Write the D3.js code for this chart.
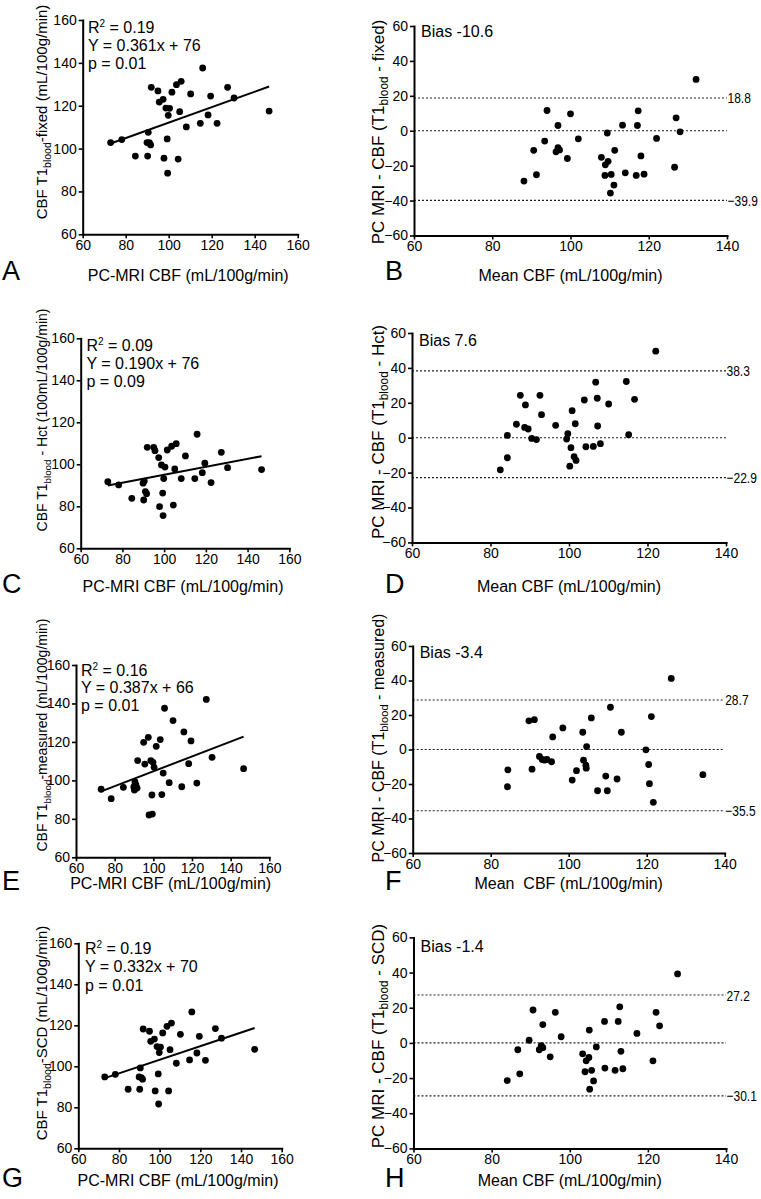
<!DOCTYPE html>
<html><head><meta charset="utf-8">
<script src="https://cdn.jsdelivr.net/npm/d3@7"></script>
<style>
body{margin:0;background:#fff}
svg{display:block}
text{font-family:"Liberation Sans",Arial,Helvetica,sans-serif;fill:#000}
</style>
</head><body>
<svg id="chart" width="761" height="1199"></svg>
<script>
// ---------- DATA ----------
// PC-MRI CBF (x for all correlation panels)
const pcMriCBF = [73.0,78.2,84.5,89.9,90.2,90.5,91.0,91.6,91.9,95.0,95.6,97.4,97.8,98.7,99.3,99.5,99.8,100.4,101.5,103.6,104.4,105.1,105.8,108.2,110.2,114.7,115.8,118.3,119.5,122.5,127.4,130.4,146.7];
const cbfT1Fixed    = [102.8,104.2,96.5,102.8,96.5,107.6,102.8,101.7,128.6,126.9,121.7,123.0,95.5,118.9,104.5,88.5,115.5,118.8,126.3,129.8,95.1,117.2,131.4,110.1,125.5,111.8,137.6,115.7,124.5,111.8,128.6,123.6,117.5];
const cbfT1Hct      = [91.7,90.2,83.8,91.0,83.0,92.0,87.0,86.0,108.1,108.1,106.5,103.2,79.8,99.7,86.3,75.6,93.2,98.7,106.8,108.6,80.6,97.8,109.8,93.2,104.0,93.2,114.3,96.0,100.5,91.3,105.7,98.4,97.5];
const cbfT1Measured = [95.4,90.5,96.4,96.6,95.0,99.2,97.6,96.0,110.3,119.8,108.5,122.4,82.0,110.3,92.4,82.5,109.4,106.8,117.7,121.2,92.6,103.8,137.5,98.8,131.1,96.7,125.2,108.7,120.5,98.6,142.1,112.0,106.1];
const cbfT1Scd      = [94.8,96.1,88.8,94.8,88.8,99.2,94.5,93.7,118.2,117.1,112.2,113.3,88.0,109.6,96.3,81.6,106.7,109.4,116.3,119.5,88.0,108.1,121.1,101.5,115.6,103.1,126.5,106.5,114.6,102.9,118.4,113.7,108.3];

const fitR2        = ["0.19","0.09","0.16","0.19"];
const fitSlope     = [0.361,0.190,0.387,0.332];
const fitIntercept = [76,76,66,70];
const fitP         = ["0.01","0.09","0.01","0.01"];

// Bland-Altman: mean CBF and difference
const meanFixed = [88.1,90.6,91.3,93.4,94.0,96.3,96.8,96.8,97.2,99.2,100.0,102.0,107.9,108.8,108.9,109.4,109.6,110.4,110.2,111.1,111.3,113.3,114.0,116.8,117.1,117.3,118.0,118.8,122.0,126.6,127.0,128.0,132.1];
const diffFixed = [-28.8,-11.2,-25.2,-5.9,11.6,-12.1,3.0,-9.7,-11.0,-15.9,9.7,-4.6,-15.2,-25.6,-19.5,-1.3,-17.5,-25.0,-35.7,-31.1,-11.2,3.2,-24.1,-25.6,3.0,11.4,-14.4,-24.9,-4.4,-20.9,7.4,-0.6,29.4];
const meanHct = [82.5,84.3,84.3,86.6,87.6,88.7,88.9,89.6,90.5,91.7,92.6,93.0,96.6,99.4,99.7,100.2,100.5,100.8,101.3,101.8,101.6,103.9,104.3,106.2,106.8,107.2,107.3,108.0,110.1,114.6,115.2,116.7,122.1];
const diffHct = [-18.4,-11.5,1.3,7.7,24.3,5.9,18.8,5.0,-0.4,-1.1,24.3,13.2,7.1,-0.8,2.3,-16.3,-5.7,15.5,-10.9,-13.0,8.0,21.6,-5.2,-5.0,31.8,22.6,6.7,-3.4,19.3,32.2,1.7,22.0,49.6];
const meanMeasured = [84.4,84.3,89.8,91.2,90.6,92.5,93.2,93.8,94.4,95.6,95.9,98.5,100.9,102.0,103.6,104.6,103.8,104.4,104.5,105.8,107.4,109.5,109.9,110.7,112.4,113.5,119.8,120.5,120.7,121.2,121.7,126.3,134.4];
const diffMeasured = [-11.8,-21.6,16.6,17.3,-11.4,-4.0,-5.8,-6.2,-5.8,-7.1,7.3,12.5,-17.7,-12.3,10.0,1.7,-6.2,-9.1,-10.8,18.3,-23.9,-15.4,-23.9,24.5,-17.1,10.0,-0.2,-8.7,-19.8,19.1,-30.6,41.2,-14.6];
const meanScd = [84.0,86.7,87.2,89.6,90.6,92.2,92.7,93.1,93.1,95.0,96.3,97.8,103.3,103.9,104.2,104.9,105.0,105.1,105.6,106.1,106.8,108.9,109.0,111.6,112.4,112.8,113.1,113.6,117.2,121.3,122.1,123.0,127.6];
const diffScd = [-21.4,-3.9,-17.6,1.5,18.7,-3.9,-1.5,-2.7,10.4,-7.9,17.4,3.5,-6.2,-16.4,-10.2,-8.3,7.3,-26.3,-15.6,-21.6,-2.3,12.2,-14.3,-15.6,12.2,20.5,-4.8,-14.7,5.4,-10.2,17.4,9.7,39.2];

const biasValues = ["-10.6","7.6","-3.4","-1.4"];
const upperLoA   = [18.8,38.3,28.7,27.2];
const lowerLoA   = [-39.9,-22.9,-35.5,-30.1];

const scatterTicks = [60,80,100,120,140,160];
const baXTicks     = [60,80,100,120,140];
const baYTicks     = [-60,-40,-20,0,20,40,60];

const panelLetters = ["A","B","C","D","E","F","G","H"];
const scatterYTitles = [["CBF T1","blood","-fixed (mL/100g/min)"],["CBF T1","blood"," - Hct (100mL/100g/min)"],["CBF T1","blood","-measured (mL/100g/min)"],["CBF T1","blood","-SCD (mL/100g/min)"]];
const baYTitles = [["PC MRI - CBF (T1","blood"," - fixed)"],["PC MRI - CBF (T1","blood"," - Hct)"],["PC MRI - CBF (T1","blood"," - measured)"],["PC MRI - CBF (T1","blood"," - SCD)"]];
const scatterXTitle = "PC-MRI CBF (mL/100g/min)";
const baXTitles = ["Mean CBF (mL/100g/min)","Mean CBF (mL/100g/min)","Mean  CBF (mL/100g/min)","Mean CBF (mL/100g/min)"];

const scatterY = [cbfT1Fixed, cbfT1Hct, cbfT1Measured, cbfT1Scd];
const baMeans = [meanFixed, meanHct, meanMeasured, meanScd];
const baDiffs = [diffFixed, diffHct, diffMeasured, diffScd];

// ---------- LAYOUT ----------
const scatterBoxes = [
  {l:82.7,r:297.7,t:20,b:234.3, ann:[88,32.5,18.3], ytc:112, yts:15, xtb:281, lb:280},
  {l:80.7,r:289.3,t:338.3,b:548.3, ann:[86.5,350.7,18.3], ytc:420, yts:14, xtb:592, lb:593},
  {l:76,r:269.3,t:665,b:857.3, ann:[81,675.5,17.5], ytc:735, yts:14, xtb:889, lb:890},
  {l:78.3,r:281.7,t:943.3,b:1148.3, ann:[85,954,18.3], ytc:1033, yts:15, xtb:1186, lb:1187}
];
const baBoxes = [
  {l:414,r:727,t:26,b:235.5, bias:37, ytc:132, yts:17, xtb:281},
  {l:412,r:726,t:333,b:542.4, bias:345.7, ytc:432, yts:17, xtb:592},
  {l:412.7,r:724.7,t:646,b:853, bias:658.4, ytc:738, yts:16, xtb:889},
  {l:413.5,r:726,t:937.4,b:1148.4, bias:951.7, ytc:1036, yts:17, xtb:1186}
];

const svg = d3.select("#chart");

function styleAxis(g){
  g.select(".domain").attr("stroke","#000").attr("stroke-width",2).attr("stroke-linecap","square");
  g.selectAll(".tick line").attr("stroke","#000").attr("stroke-width",1.6);
  g.selectAll(".tick text").attr("font-size",14).attr("fill","#000");
}

function subTitle(g, x, y, parts, rotate, size){
  const t = g.append("text")
    .attr("transform", `translate(${x},${y})` + (rotate ? " rotate(-90)" : ""))
    .attr("text-anchor","middle").attr("font-size",size);
  t.append("tspan").text(parts[0]);
  t.append("tspan").attr("font-size",size*0.7).attr("dy",4).text(parts[1]);
  t.append("tspan").attr("dy",-4).text(parts[2]);
  return t;
}

// ---------- SCATTER PANELS ----------
scatterBoxes.forEach((bx,i)=>{
  const g = svg.append("g");
  const x = d3.scaleLinear().domain([60,160]).range([bx.l,bx.r]);
  const y = d3.scaleLinear().domain([60,160]).range([bx.b,bx.t]);

  g.append("g").attr("transform",`translate(0,${bx.b})`)
    .call(d3.axisBottom(x).tickValues(scatterTicks).tickSize(4).tickSizeOuter(0).tickPadding(2))
    .call(styleAxis);
  g.append("g").attr("transform",`translate(${bx.l},0)`)
    .call(d3.axisLeft(y).tickValues(scatterTicks).tickSize(4).tickSizeOuter(0).tickPadding(2))
    .call(styleAxis);

  const ys = scatterY[i];
  const ext = d3.extent(pcMriCBF);
  const fit = ext.map(v=>[v, fitSlope[i]*v + fitIntercept[i]]);
  g.append("path").datum(fit)
    .attr("d", d3.line().x(d=>x(d[0])).y(d=>y(d[1])))
    .attr("stroke","#000").attr("stroke-width",2).attr("fill","none");

  g.selectAll("circle.pt").data(pcMriCBF).join("circle")
    .attr("cx",d=>x(d)).attr("cy",(d,j)=>y(ys[j])).attr("r",3.4).attr("fill","#000");

  const [ax, ay, dy] = bx.ann;
  const r2 = g.append("text").attr("x",ax).attr("y",ay).attr("font-size",16);
  r2.append("tspan").text("R");
  r2.append("tspan").attr("font-size",10).attr("dy",-6).text("2");
  r2.append("tspan").attr("dy",6).text(" = " + fitR2[i]);
  g.append("text").attr("x",ax).attr("y",ay+dy).attr("font-size",16)
    .text(`Y = ${fitSlope[i].toFixed(3)}x + ${fitIntercept[i]}`);
  g.append("text").attr("x",ax).attr("y",ay+2*dy).attr("font-size",16)
    .text(`p = ${fitP[i]}`);

  subTitle(g, 47, bx.ytc, scatterYTitles[i], true, bx.yts);
  g.append("text").attr("x",(bx.l+bx.r)/2 - 2).attr("y",bx.xtb).attr("text-anchor","middle")
    .attr("font-size",16).text(scatterXTitle);
  g.append("text").attr("x",2).attr("y",bx.lb).attr("font-size",27).text(panelLetters[i*2]);
});

// ---------- BLAND-ALTMAN PANELS ----------
baBoxes.forEach((bx,i)=>{
  const g = svg.append("g");
  const x = d3.scaleLinear().domain([60,140]).range([bx.l,bx.r]);
  const y = d3.scaleLinear().domain([-60,60]).range([bx.b,bx.t]);

  [upperLoA[i], 0, lowerLoA[i]].forEach(v=>{
    g.append("line").attr("x1",bx.l).attr("x2",bx.r).attr("y1",y(v)).attr("y2",y(v))
      .attr("stroke","#222").attr("stroke-width",1.1).attr("stroke-dasharray","2,2");
  });
  [upperLoA[i], lowerLoA[i]].forEach(v=>{
    g.append("text").attr("transform",`translate(${bx.r+0.5},${y(v)+5.5}) scale(0.8,1)`)
      .attr("font-size",15).text(d3.format(".1f")(v));
  });

  g.append("g").attr("transform",`translate(0,${bx.b})`)
    .call(d3.axisBottom(x).tickValues(baXTicks).tickSize(4).tickSizeOuter(0).tickPadding(2))
    .call(styleAxis);
  g.append("g").attr("transform",`translate(${bx.l},0)`)
    .call(d3.axisLeft(y).tickValues(baYTicks).tickSize(4).tickSizeOuter(0).tickPadding(2).tickFormat(d3.format("d")))
    .call(styleAxis);

  const ds = baDiffs[i];
  g.selectAll("circle.pt").data(baMeans[i]).join("circle")
    .attr("cx",d=>x(d)).attr("cy",(d,j)=>y(ds[j])).attr("r",3.4).attr("fill","#000");

  g.append("text").attr("x",bx.l+7).attr("y",bx.bias).attr("font-size",16).text("Bias " + biasValues[i]);

  subTitle(g, 384, bx.ytc, baYTitles[i], true, bx.yts);
  g.append("text").attr("x",(bx.l+bx.r)/2).attr("y",bx.xtb).attr("text-anchor","middle")
    .attr("font-size",16).style("white-space","pre").text(baXTitles[i]);
  g.append("text").attr("x",385).attr("y",scatterBoxes[i].lb).attr("font-size",27).text(panelLetters[i*2+1]);
});
</script>
</body></html>
